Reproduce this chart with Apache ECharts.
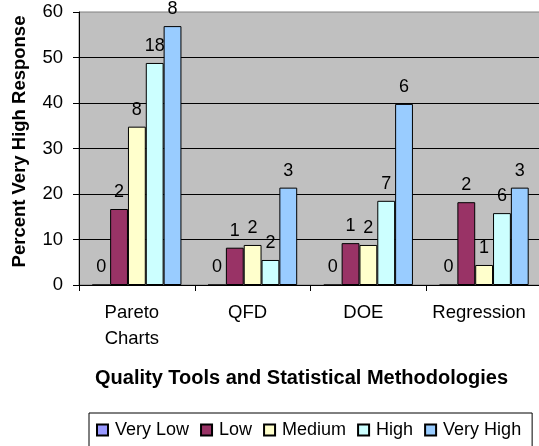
<!DOCTYPE html>
<html>
<head>
<meta charset="utf-8">
<script src="https://cdn.jsdelivr.net/npm/echarts@6/dist/echarts.min.js"></script>
<style>
  html, body { margin: 0; padding: 0; background: #ffffff; }
  #chart { width: 539px; height: 446px; }
</style>
</head>
<body>
<div id="chart"></div>
<script>
// Tools surveyed
const categories = ['Pareto\nCharts', 'QFD', 'DOE', 'Regression'];

// Percent of respondents per rating group
const veryLow  = [0, 0, 0, 0];
const low      = [16.7, 8.2, 9.2, 18.2];
const medium   = [34.8, 8.8, 8.8, 4.4];
const high     = [48.8, 5.5, 18.5, 15.8];
const veryHigh = [56.9, 21.4, 39.8, 21.4];

// Respondent counts printed above each bar
const veryLowCounts  = [0, 0, 0, 0];
const lowCounts      = [2, 1, 1, 2];
const mediumCounts   = [8, 2, 2, 1];
const highCounts     = [18, 2, 7, 6];
const veryHighCounts = [8, 3, 6, 3];

const yTicks = [0, 10, 20, 30, 40, 50, 60];

const FONT = '"Liberation Sans", Arial, sans-serif';

function makeSeries(name, values, counts, color) {
  return {
    name: name,
    type: 'bar',
    data: values,
    barGap: '0%',
    barCategoryGap: '23%',
    itemStyle: { color: color, borderColor: '#000000', borderWidth: 1 },
    label: {
      show: true,
      position: 'top',
      distance: 8,
      color: '#000000',
      fontFamily: FONT,
      fontSize: 18,
      formatter: function (p) { return String(counts[p.dataIndex]); }
    }
  };
}

const chart = echarts.init(document.getElementById('chart'), null, { renderer: 'canvas' });

chart.setOption({
  backgroundColor: '#ffffff',
  animation: false,
  grid: {
    left: 79,
    top: 12,
    bottom: 161,
    width: 463,
    outerBoundsMode: 'none',
    containLabel: false,
    show: true,
    backgroundColor: '#C0C0C0',
    borderColor: '#808080',
    borderWidth: 1
  },
  legend: {
    left: 89,
    top: 413,
    orient: 'horizontal',
    icon: 'rect',
    itemWidth: 11,
    itemHeight: 11,
    itemGap: 11,
    padding: [8, 11, 8, 7],
    borderColor: '#000000',
    borderWidth: 1,
    textStyle: { fontFamily: FONT, fontSize: 18, color: '#000000', padding: [0, 0, 0, 2] },
    data: ['Very Low', 'Low', 'Medium', 'High', 'Very High']
  },
  xAxis: {
    type: 'category',
    data: categories,
    name: 'Quality Tools and Statistical Methodologies',
    nameLocation: 'middle',
    nameGap: 83,
    nameTextStyle: {
      fontFamily: FONT, fontSize: 20, fontWeight: 'bold', color: '#000000',
      padding: [0, 18, 0, 0]
    },
    axisLine: { show: true, lineStyle: { color: '#000000', width: 1 } },
    axisTick: { show: true, length: 6, lineStyle: { color: '#000000' } },
    axisLabel: {
      interval: 0,
      margin: 15,
      fontFamily: FONT, fontSize: 18.5, color: '#000000', lineHeight: 26,
      padding: [0, 10, 0, 0]
    },
    splitLine: { show: false }
  },
  yAxis: {
    type: 'value',
    min: yTicks[0],
    max: yTicks[yTicks.length - 1],
    interval: 10,
    name: 'Percent Very High Response',
    nameLocation: 'middle',
    nameGap: 50,
    nameTextStyle: {
      fontFamily: FONT, fontSize: 18.5, fontWeight: 'bold', color: '#000000',
      padding: [0, 0, 0, 14]
    },
    axisLine: { show: true, lineStyle: { color: '#000000', width: 1 } },
    axisTick: { show: true, length: 6, lineStyle: { color: '#000000' } },
    axisLabel: { margin: 16, fontFamily: FONT, fontSize: 18.5, color: '#000000' },
    splitLine: { show: true, showMaxLine: false, lineStyle: { color: '#000000', width: 1 } }
  },
  series: [
    makeSeries('Very Low',  veryLow,  veryLowCounts,  '#9999FF'),
    makeSeries('Low',       low,      lowCounts,      '#993366'),
    makeSeries('Medium',    medium,   mediumCounts,   '#FFFFCC'),
    makeSeries('High',      high,     highCounts,     '#CCFFFF'),
    makeSeries('Very High', veryHigh, veryHighCounts, '#99CCFF')
  ]
});
</script>
</body>
</html>
